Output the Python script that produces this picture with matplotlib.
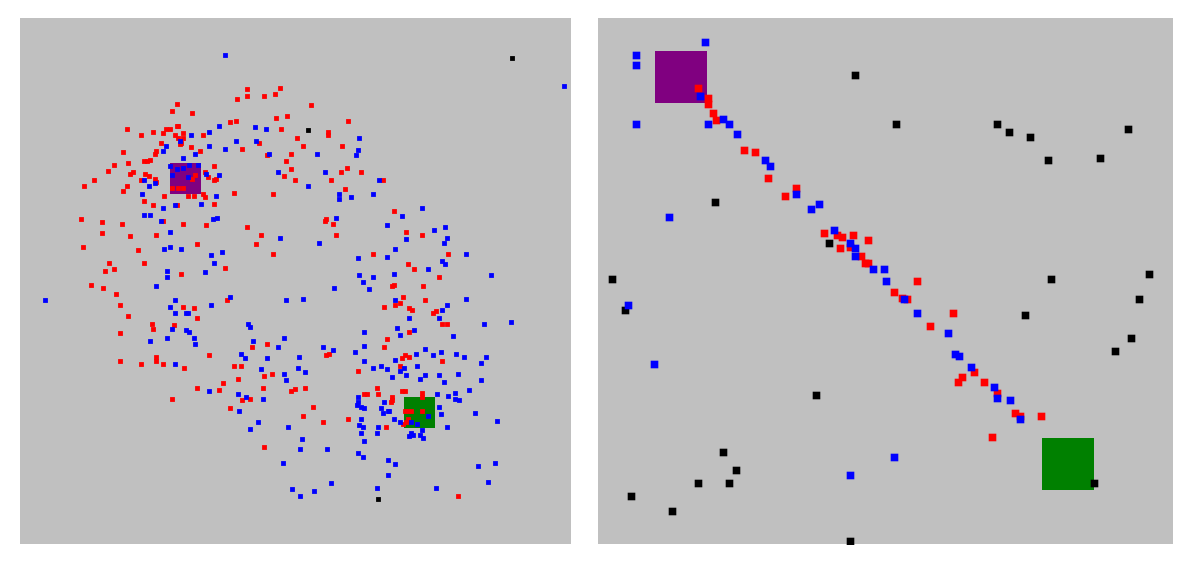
import numpy as np
import matplotlib
matplotlib.use("Agg")
import matplotlib.pyplot as plt
from matplotlib.patches import Rectangle

# values are in the picture's own pixel scale, read off 3x crops
# so each list goes with the corner of the crop it came from
left_blue_a = [(615,46),(596,257),(568,276),(512,285),(480,302),(437,318),(428,332),(568,318),(526,342),(488,355),
    (648,304),(615,327),(704,262),(737,266),(708,304),(746,341),(774,397),(596,406),(558,403),(451,378),(470,388),
    (488,383),(508,374),(534,374),(456,406),(503,411),(372,421),(386,439),(404,430),(367,463),(587,467),(544,491),
    (465,495),(428,505)]
left_red_a = [(470,191),(456,214),(516,219),(680,148),(680,168),(652,177),(732,168),(765,163),(779,144),(648,242),
    (629,247),(769,233),(802,228),(783,266),(831,294),(718,308),(666,327),(812,341),(741,346),(797,364),(812,388),
    (793,407),(826,421),(760,463),(643,458),(582,378),(582,491),(554,397),(563,411),(587,416),(582,421),(549,285),
    (540,332),(512,322),(470,257),(475,257),(437,266),(451,266),(428,280),(400,275),(362,285),(320,266),(465,285),
    (475,294),(488,280),(488,294),(480,313),(484,308),(423,308),(409,332),(404,341),(310,336),(390,360),(381,364),
    (372,364),(282,374),(324,369),(263,393),(221,421),(193,439),(338,397),(329,402),(376,402),(386,407),(362,421),
    (404,416),(409,425),(320,439),(310,453),(432,467),(372,482),(400,495),(470,495),(456,444),(475,444),(488,444),
    (526,406),(517,416),(503,467),(521,467),(549,463),(554,472)]

left_blue_b = [(371,44),(390,44),(423,62),(451,95),(578,58),(592,53),(432,147),(451,142),(484,147),(573,165),(606,156),
    (582,189),(554,217),(442,212),(442,231),(409,259),(76,301),(465,301),(451,320),(465,339),(498,339),(503,339),
    (573,316),(629,292),(797,301),(779,114),(456,386),(498,390),(507,395),(442,414),(390,423),(521,414),(526,433),
    (685,372),(690,381),(699,423),(793,414),(774,442),(662,461),(676,475),(741,475),(465,493),(723,507),(836,470),
    (834,503)]
left_red_b = [(184,58),(245,67),(306,72),(245,100),(329,109),(409,104),(428,62),(488,72),(559,76),(681,81),(723,104),
    (709,133),(760,161),(531,133),(189,142),(353,151),(372,189),(268,189),(254,212),(282,208),(615,203),(484,222),
    (212,254),(249,264),(287,283),(301,316),(324,348),(488,320),(521,325),(531,353),(620,301),(395,372),(400,386),
    (461,376),(301,400),(695,442),(741,433),(568,465),(301,484),(362,493),(409,470),(409,484),(428,493),(493,503),
    (643,498),(662,498)]

left_blue_c = [(208,114),(203,151),(198,165),(81,161),(105,217),(53,259),(268,240),(147,283),(147,297),(184,292),
    (250,283),(396,325),(335,348),(138,353),(292,376),(465,381),(433,390),(470,414),(349,418),(461,428),(86,428),
    (316,447),(203,475),(292,470),(527,461),(456,484),(465,493),(414,507)]
left_red_c = [(63,16),(175,63),(114,95),(114,105),(156,137),(39,137),(171,203),(152,217),(212,217),(124,240),(278,240),
    (166,268),(311,334),(109,357),(104,362),(128,372),(138,404),(349,395),(396,404),(250,461),(475,461),(353,493),
    (372,507)]

left_blue_d = [(208,46),(250,51),(311,42),(218,65),(133,84),(236,88),(602,46),(39,117),(527,117),(316,121),(470,135),
    (456,149),(447,173),(358,173),(583,191),(662,187),(320,205),(372,210),(222,215),(330,224),(489,229),(100,262),
    (128,271),(194,276),(222,257),(405,267),(377,281),(452,276),(428,285),(498,281),(522,290),(587,290),(316,299),
    (222,304),(573,309),(250,323),(274,318),(292,327),(343,323),(330,332),(382,318)]
left_red_d = [(447,51),(311,74),(306,79),(400,79),(339,112),(405,121),(283,140),(316,135),(330,130),(358,144),(367,149),
    (428,158),(437,154),(456,191),(470,191),(358,215),(292,238),(283,262),(118,281),(109,285),(344,285),(358,290),
    (335,295),(456,304),(330,318)]

left_blue_e = [(253,12),(314,7),(258,30),(28,63),(113,72),(137,82),(188,87),(118,124),(174,156),(150,176),(263,171),
    (305,208),(300,236),(380,236),(249,279),(277,358),(300,377),(342,363),(394,340),(577,21),(619,16),(661,26),
    (675,16),(717,16),(731,35),(773,12),(844,30),(806,59),(764,68),(745,77),(764,87),(778,91),(712,73),(717,110),
    (722,133),(825,129),(891,152),(741,171),(474,82),(474,96),(470,105),(484,110),(493,115),(553,96),(544,115),
    (549,129),(563,124),(568,124),(483,147),(478,166),(488,171),(483,190),(534,171),(530,190),(492,213),(581,147),
    (600,157),(633,157),(652,161),(685,138),(666,180),(661,194),(670,204),(633,190),(638,194),(628,199),(474,250),
    (488,260),(563,269),(586,283),(563,316),(530,354),(708,354),(835,288),(886,279),(863,335)]
left_red_e = [(192,17),(216,12),(113,26),(70,40),(56,59),(188,54),(272,63),(286,58),(314,54),(127,91),(150,87),(89,115),
    (338,110),(309,138),(370,157),(445,148),(192,232),(473,4),(530,54),(492,73),(501,73),(535,73),(605,63),(614,63),
    (577,82),(577,91),(572,96),(666,68),(666,82),(666,124),(614,124),(624,124),(633,124),(624,148),(619,157),(610,161),
    (558,171),(773,377)]
left_red_f = [(411,84),(336,117)]

left_blue_extra = [(564,86)]
left_black = [(512,58),(308,130),(378,499)]

right_red_a = [(53,53),(85,85),(85,101),(100,130),(107,150),(193,240),(224,247),(263,325),(347,355),(316,379)]
right_blue_a = [(60,79),(130,147),(85,161),(146,161),(170,193),(255,270),(270,287),(347,372),(417,402),(393,418)]
right_red_b = [(42,38),(80,45),(95,52),(128,45),(175,61),(90,85),(120,80),(152,108),(165,130),(175,130),(321,184),
    (252,215),(275,233),(292,238),(430,278),(360,317),(455,470),(444,487),(491,456),(522,487),(562,518),(615,580),
    (630,587),(693,587),(545,650)]
right_blue_b = [(73,30),(120,68),(135,85),(135,108),(190,146),(222,146),(229,184),(283,238),(321,278),(415,340),
    (435,402),(446,408),(484,440),(553,502),(562,535),(600,541),(630,597)]
right_blue_extra = [(705,42),(636,55),(636,65),(636,124),(669,217),(628,305),(654,364),(850,475),(894,457)]
right_black = [(855,75),(896,124),(997,124),(1009,132),(1030,137),(1128,129),(1048,160),(1100,158),(715,202),(829,243),
    (612,279),(1051,279),(1149,274),(1139,299),(625,310),(1025,315),(1131,338),(1115,351),(816,395),(723,452),
    (736,470),(698,483),(729,483),(631,496),(672,511),(1094,483),(850,541)]

# start and goal squares: x, y, side
left_start = (170, 163, 31)
left_goal = (404, 397, 31)
right_start = (655, 51, 52)
right_goal = (1042, 438, 52)


def from_crop(points, ox, oy):
    arr = np.array(points, dtype=float)
    return arr / 3 + [ox, oy]


def dots(ax, pts, color, s):
    pts = np.asarray(pts, dtype=float)
    # no snapping, so the edges stay soft like the scaled up original
    sc = ax.scatter(pts[:, 0], pts[:, 1], s=s, marker="s", c=color, linewidths=0)
    sc.set_snap(False)


def setup(ax, xlim, ylim):
    ax.set_facecolor("#c0c0c0")
    ax.set_xlim(*xlim)
    ax.set_ylim(*ylim)
    ax.set_xticks([])
    ax.set_yticks([])
    for sp in ax.spines.values():
        sp.set_visible(False)


def square(ax, sq, color):
    ax.add_patch(Rectangle((sq[0], sq[1]), sq[2], sq[2], color=color, linewidth=0))


left_red = np.vstack([from_crop(left_red_a, 20, 40), from_crop(left_red_b, 20, 200), from_crop(left_red_c, 290, 100),
                      from_crop(left_red_d, 290, 260), from_crop(left_red_e, 200, 370), from_crop(left_red_f, 60, 360)])
left_blue = np.vstack([from_crop(left_blue_a, 20, 40), from_crop(left_blue_b, 20, 200), from_crop(left_blue_c, 290, 100),
                       from_crop(left_blue_d, 290, 260), from_crop(left_blue_e, 200, 370), left_blue_extra])
right_red = np.vstack([from_crop(right_red_a, 680, 70), from_crop(right_red_b, 810, 220)])
right_blue = np.vstack([from_crop(right_blue_a, 680, 70), from_crop(right_blue_b, 810, 220), right_blue_extra])

W, H = 1200, 574
fig = plt.figure(figsize=(W / 100, H / 100), dpi=100)
ax1 = fig.add_axes([20 / W, 1 - 544 / H, 551 / W, 526 / H])
ax2 = fig.add_axes([598 / W, 1 - 544 / H, 575 / W, 526 / H])
setup(ax1, (20, 571), (544, 18))
setup(ax2, (598, 1173), (544, 18))

square(ax1, left_start, "purple")
square(ax1, left_goal, "green")
dots(ax1, left_black, "black", 12)
dots(ax1, left_red, "red", 12)
dots(ax1, left_blue, "blue", 12)

square(ax2, right_start, "purple")
square(ax2, right_goal, "green")
dots(ax2, right_black, "black", 30)
dots(ax2, right_red, "red", 30)
dots(ax2, right_blue, "blue", 30)

fig.savefig("out.png", dpi=100)
